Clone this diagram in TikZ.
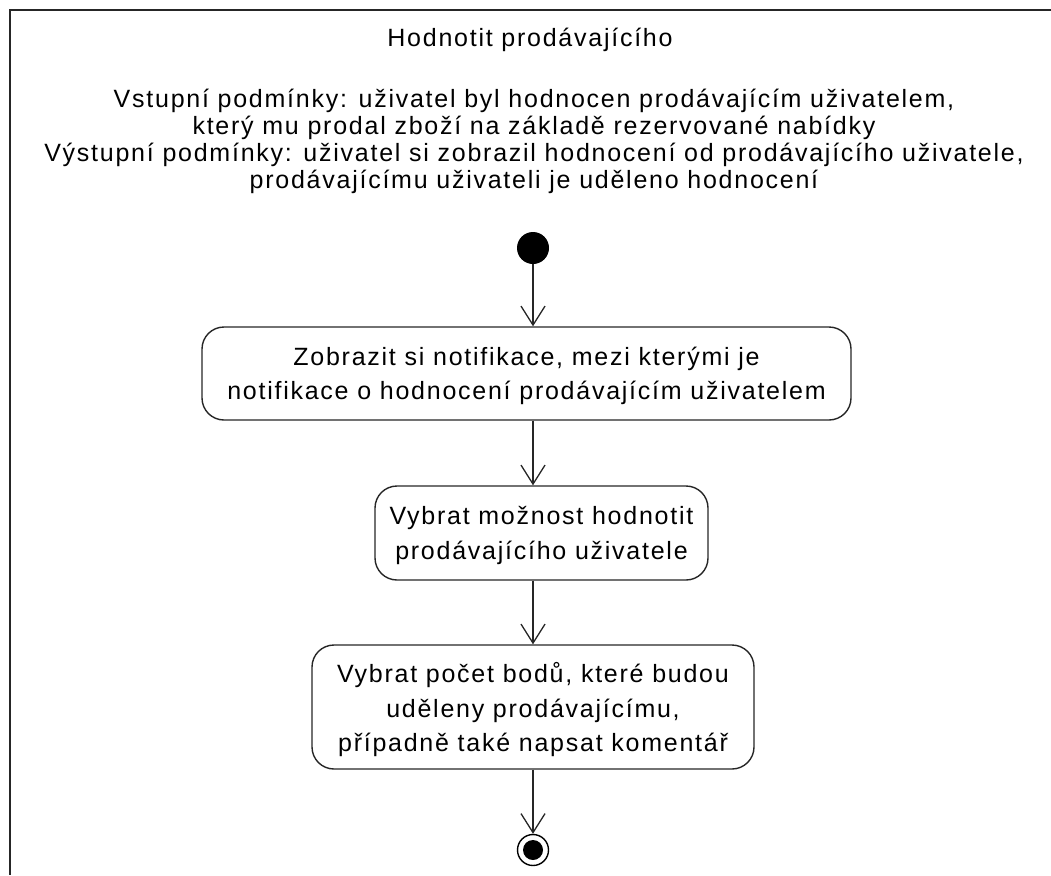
\documentclass[tikz,border=0pt]{standalone}
\usepackage{fontspec}
\setmainfont{Liberation Sans}[LetterSpace=7]
\usetikzlibrary{arrows.meta}
\begin{document}
\begin{tikzpicture}[x=1pt,y=-1pt,
  txt/.style={font=\fontsize{25}{27}\selectfont, align=center, inner sep=0pt},
  action/.style={draw=black!85, line width=1.4pt, rounded corners=22pt,
    font=\fontsize{25}{34.5}\selectfont, align=center, inner sep=0pt, text depth=-3pt},
  flow/.style={draw=black!85, line width=1.3pt,
    -{Straight Barb[length=19pt,width=24pt,line width=1.3pt]}},
  initial/.style={circle, fill=black, minimum size=32pt, inner sep=0pt},
  finalring/.style={circle, draw=black, line width=1.4pt, minimum size=31pt, inner sep=0pt},
  finaldot/.style={circle, fill=black, minimum size=20pt, inner sep=0pt}]
\useasboundingbox (0,0) rectangle (1051,875);
% activity frame (continues past the right and bottom edges)
\draw[line width=2pt, black!85] (1051,10) -- (10,10) -- (10,875);

\node[txt] (title) at (530,40) {Hodnotit prodávajícího};
\node[txt, anchor=north] (cond) at (534,89) {Vstupní podmínky: uživatel byl hodnocen prodávajícím uživatelem,\\
který mu prodal zboží na základě rezervované nabídky\\
Výstupní podmínky: uživatel si zobrazil hodnocení od prodávajícího uživatele,\\
prodávajícímu uživateli je uděleno hodnocení};

\node[initial] (start) at (533,248) {};

\node[action, minimum width=649pt, minimum height=93pt] (a1) at (526.5,373.5)
  {Zobrazit si notifikace, mezi kterými je\\notifikace o hodnocení prodávajícím uživatelem};
\node[action, minimum width=333pt, minimum height=94pt] (a2) at (541.5,533)
  {Vybrat možnost hodnotit\\prodávajícího uživatele};
\node[action, minimum width=442pt, minimum height=124pt] (a3) at (533,707)
  {Vybrat počet bodů, které budou\\uděleny prodávajícímu,\\případně také napsat komentář};

\node[finalring] (endring) at (533,850) {};
\node[finaldot] (enddot) at (endring.center) {};

\draw[flow] (start) -- (start |- a1.north);
\draw[flow] (a1.south -| start) -- (start |- a2.north);
\draw[flow] (a2.south -| start) -- (start |- a3.north);
\draw[flow] (a3.south -| start) -- (endring.north);
\end{tikzpicture}
\end{document}
